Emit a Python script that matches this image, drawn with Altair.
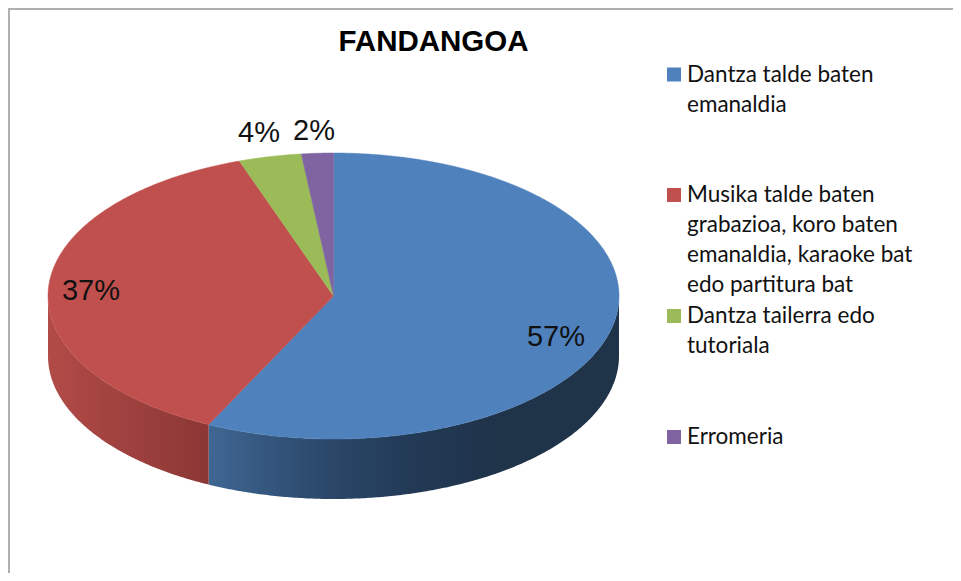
import math
import altair as alt
import pandas as pd

CATEGORIES = ["Dantza talde baten emanaldia",
              "Musika talde baten grabazioa, koro baten emanaldia, karaoke bat edo partitura bat",
              "Dantza tailerra edo tutoriala", "Erromeria"]
SHARES = [57.2, 37.45, 3.55, 1.8]
PCT_LABELS = ["57%", "37%", "4%", "2%"]
COLORS = ["#4F81BD", "#C0504D", "#9BBB59", "#8064A2"]
LEGEND_LINES = [["Dantza talde baten", "emanaldia"],
                ["Musika talde baten", "grabazioa,  koro baten", "emanaldia, karaoke bat", "edo partitura bat"],
                ["Dantza tailerra edo", "tutoriala"],
                ["Erromeria"]]
LEGEND_Y = [66.5, 187, 308, 429]
LABEL_POS = [(548, 329), (83, 283), (251, 125), (306, 123)]
TITLE = "FANDANGOA"

W, H = 945, 565
CX, CY, RX, RY = 325.5, 288.0, 285.5, 143.0
DEPTH = 60 / RY
XS = alt.Scale(domain=[-CX / RX, (W - CX) / RX], range=[0, W], nice=False, zero=False)
YS = alt.Scale(domain=[(CY - H) / RY, CY / RY], range=[H, 0], nice=False, zero=False)
EPS = 1e-6


def wedge(f0, f1):
    n = max(8, int((f1 - f0) * 720))
    pts = [(0.0, 0.0)]
    for i in range(n + 1):
        t = 2 * math.pi * (f0 + (f1 - f0) * i / n)
        pts.append((math.sin(t), math.cos(t)))
    rows = []
    edges = list(zip(pts, pts[1:] + pts[:1]))
    xs = sorted({round(p[0], 9) + s for p in pts for s in (-EPS, EPS)})
    for x in xs:
        ys = []
        for (ax, ay), (bx, by) in edges:
            if min(ax, bx) <= x < max(ax, bx):
                ys.append(ay + (by - ay) * (x - ax) / (bx - ax))
        if ys:
            rows.append({"x": x, "top": max(ys), "bot": min(ys)})
    return pd.DataFrame(rows)


def wall(f0, f1):
    n = max(8, int((f1 - f0) * 720))
    rows = []
    for i in range(n + 1):
        t = 2 * math.pi * (f0 + (f1 - f0) * i / n)
        x, y = math.sin(t), math.cos(t)
        rows.append({"x": x, "top": y, "bot": y - DEPTH})
    return pd.DataFrame(rows).sort_values("x")


def area(df, fill):
    return alt.Chart(df).mark_area(orient="vertical", fill=fill).encode(
        x=alt.X("x:Q", scale=XS, axis=None),
        y=alt.Y("top:Q", scale=YS, axis=None),
        y2="bot:Q",
    )


def grad(stops):
    return alt.Gradient(gradient="linear", x1=0, x2=1, y1=0, y2=0,
                        stops=[alt.GradientStop(offset=o, color=c) for o, c in stops])


total = sum(SHARES)
cum = [0.0]
for s in SHARES:
    cum.append(cum[-1] + s / total)

layers = []
# side walls
layers.append(area(wall(0.25, cum[1]), grad([(0, "#3F6693"), (0.22, "#2F4E72"), (0.45, "#233C59"), (0.7, "#1F3349"), (1, "#1F3349")])))
layers.append(area(wall(cum[1], 0.75), grad([(0, "#B24B48"), (0.5, "#9E413E"), (1, "#8B3735")])))
# top slices
for i, c in enumerate(COLORS):
    df = wedge(cum[i], cum[i + 1])
    layers.append(alt.Chart(df).mark_area(orient="vertical", color=c, stroke=c, strokeWidth=0.5).encode(
        x=alt.X("x:Q", scale=XS, axis=None),
        y=alt.Y("top:Q", scale=YS, axis=None),
        y2="bot:Q",
    ))

one = pd.DataFrame({"a": [0]})
# percentage labels
for t, (px, py) in zip(PCT_LABELS, LABEL_POS):
    layers.append(alt.Chart(one).mark_text(text=t, font="Liberation Sans", fontSize=29, color="#111111",
                                           align="center", baseline="middle").encode(
        x=alt.value(px), y=alt.value(py)))
# title
layers.append(alt.Chart(one).mark_text(text=TITLE, font="Liberation Sans", fontWeight="bold", fontSize=29.5,
                                       color="#000000", align="center", baseline="middle").encode(
    x=alt.value(425.5), y=alt.value(34)))
# legend
for lines, y0, c in zip(LEGEND_LINES, LEGEND_Y, COLORS):
    layers.append(alt.Chart(one).mark_square(size=196, color=c, opacity=1).encode(
        x=alt.value(666), y=alt.value(y0)))
    for j, line in enumerate(lines):
        layers.append(alt.Chart(one).mark_text(text=line, font="Lato", fontSize=22.5, color="#111111",
                                               align="left", baseline="middle").encode(
            x=alt.value(679), y=alt.value(y0 + j * 30)))
# frame
layers.append(alt.Chart(one).mark_rule(color="#b0b0b0", strokeWidth=2).encode(
    x=alt.value(1), y=alt.value(0), y2=alt.value(H)))
layers.append(alt.Chart(one).mark_rule(color="#b0b0b0", strokeWidth=2).encode(
    x=alt.value(0), x2=alt.value(W), y=alt.value(1)))

chart = alt.layer(*layers).properties(
    width=W, height=H, padding=0, background="#ffffff",
    autosize=alt.AutoSizeParams(type="none"),
).configure_view(stroke=None)

chart.save("out.html", embed_options={"renderer": "svg", "actions": False})
